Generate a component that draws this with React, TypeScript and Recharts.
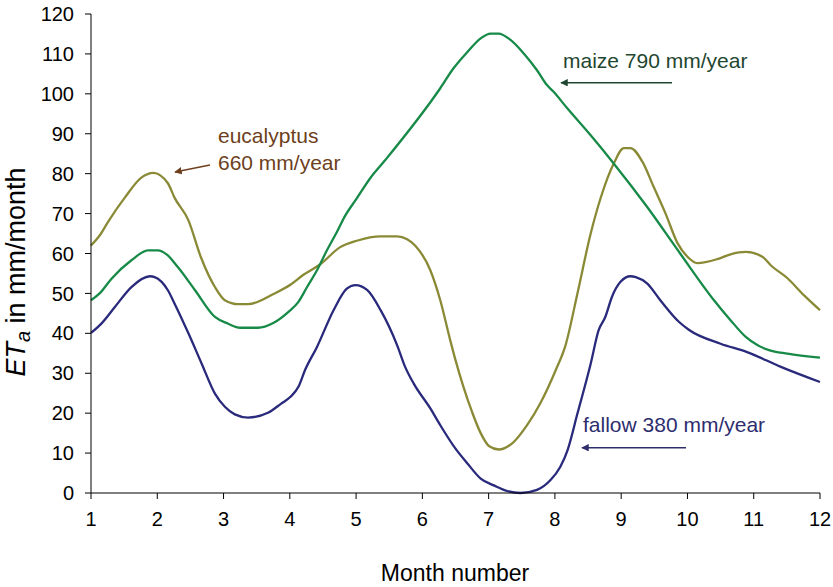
import { LineChart, Line, XAxis, YAxis } from 'recharts';

// months (fractional) and ET_a values in mm/month
const eucalyptusMonths = [1.0, 1.13, 1.26, 1.51, 1.76, 1.94, 2.16, 2.26, 2.47, 2.66, 2.87, 3.02, 3.22, 3.37, 3.77, 4.02, 4.2, 4.46, 4.76, 5.01, 5.37, 5.62, 5.77, 5.89, 6.12, 6.27, 6.42, 6.5, 6.62, 6.75, 6.88, 7.01, 7.15, 7.36, 7.58, 7.78, 8.01, 8.16, 8.34, 8.54, 8.69, 8.89, 9.04, 9.14, 9.32, 9.49, 9.67, 9.85, 10.0, 10.15, 10.45, 10.65, 10.88, 11.13, 11.26, 11.51, 11.76, 12.0];
const eucalyptusEt = [62, 64.5, 68, 74, 79, 80.2, 77.6, 74, 68.3, 59, 51.6, 48.3, 47.3, 47.3, 50, 52.3, 54.6, 57.3, 61.6, 63.2, 64.3, 64.3, 63.6, 62, 55.8, 48.3, 38.3, 33.3, 26.6, 20.3, 15, 11.7, 10.9, 12.5, 17, 22.5, 30.7, 37, 50, 65, 73.9, 82.6, 86.4, 86.4, 83, 76.7, 70, 62.6, 59.2, 57.6, 58.6, 59.8, 60.4, 59.2, 57, 53.8, 49.5, 45.8];

const maizeMonths = [1.0, 1.13, 1.31, 1.61, 1.86, 2.01, 2.14, 2.31, 2.57, 2.87, 3.07, 3.25, 3.52, 3.75, 3.98, 4.13, 4.26, 4.41, 4.56, 4.71, 4.84, 5.01, 5.21, 5.44, 6.27, 6.47, 6.68, 6.88, 7.03, 7.15, 7.33, 7.53, 7.73, 7.88, 7.98, 8.19, 8.54, 8.89, 9.39, 9.89, 10.4, 10.65, 10.88, 11.06, 11.23, 11.51, 12.0];
const maizeEt = [48.3, 50, 53.7, 58.3, 60.8, 60.8, 59.8, 56.6, 50.8, 44.1, 42.4, 41.4, 41.4, 42.6, 45.4, 47.9, 51.6, 55.8, 60.8, 65.4, 69.6, 73.8, 78.8, 83.4, 101.4, 106.4, 110.5, 113.9, 115.1, 115.1, 113.5, 110.1, 105.9, 102.2, 100.5, 96.3, 89.6, 82.5, 71.7, 60, 48.3, 43.3, 39.1, 37, 35.8, 34.9, 33.9];

const fallowMonths = [1.0, 1.16, 1.36, 1.61, 1.89, 1.96, 2.16, 2.26, 2.47, 2.67, 2.87, 3.02, 3.17, 3.37, 3.67, 3.87, 4.01, 4.13, 4.23, 4.41, 4.66, 4.86, 4.99, 5.17, 5.37, 5.62, 5.74, 5.87, 6.12, 6.27, 6.5, 6.68, 6.88, 7.08, 7.28, 7.48, 7.73, 7.93, 8.08, 8.19, 8.34, 8.54, 8.66, 8.76, 8.86, 8.99, 9.14, 9.22, 9.39, 9.59, 9.87, 10.02, 10.5, 10.9, 11.41, 12.0];
const fallowEt = [40.1, 42.5, 46.6, 51.6, 54.3, 54.1, 50.8, 47.5, 40, 32.4, 24.9, 21.6, 19.7, 18.9, 20.1, 22.4, 24.1, 26.6, 30.8, 36.6, 45.8, 51.2, 52.1, 50.8, 45.8, 37, 31.6, 27.4, 21.2, 17, 11.1, 7.4, 3.6, 1.9, 0.5, 0, 0.8, 3.2, 6.5, 10.7, 19.9, 32.4, 40.8, 44.1, 49.1, 52.9, 54.3, 54.1, 52.5, 48.3, 42.9, 40.9, 37.4, 35.3, 31.6, 27.8];

const monthTicks = [1, 2, 3, 4, 5, 6, 7, 8, 9, 10, 11, 12];
const etTicks = [0, 10, 20, 30, 40, 50, 60, 70, 80, 90, 100, 110, 120];

const toRows = (months: number[], values: number[]) =>
  months.map((m, i) => ({ month: m, et: values[i] }));

const FONT = '"Liberation Sans", Arial, Helvetica, sans-serif';
const tickStyle = { fill: '#000', fontSize: 20, fontFamily: FONT };

export default function App() {
  // pinned to the page corner so the body margin does not push it out of view
  return (
    <div style={{ position: 'absolute', left: 0, top: 0, width: 833, height: 587 }}>
      <LineChart
        width={833}
        height={587}
        margin={{ top: 14, right: 13, left: 0, bottom: 54 }}
      >
        <XAxis
          type="number"
          dataKey="month"
          domain={[1, 12]}
          ticks={monthTicks}
          height={40}
          tickSize={6}
          tickMargin={13}
          stroke="#000"
          tick={tickStyle}
        />
        <YAxis
          type="number"
          domain={[0, 120]}
          ticks={etTicks}
          width={91}
          tickSize={6}
          tickMargin={11}
          stroke="#000"
          tick={tickStyle}
        />
        <Line
          data={toRows(eucalyptusMonths, eucalyptusEt)}
          dataKey="et"
          type="monotone"
          stroke="#8a8a36"
          strokeWidth={2.3}
          dot={false}
          isAnimationActive={false}
        />
        <Line
          data={toRows(maizeMonths, maizeEt)}
          dataKey="et"
          type="monotone"
          stroke="#178a48"
          strokeWidth={2.3}
          dot={false}
          isAnimationActive={false}
        />
        <Line
          data={toRows(fallowMonths, fallowEt)}
          dataKey="et"
          type="monotone"
          stroke="#2a2a7c"
          strokeWidth={2.3}
          dot={false}
          isAnimationActive={false}
        />
      </LineChart>

      {/* annotations and axis titles */}
      <svg
        width={833}
        height={587}
        style={{ position: 'absolute', left: 0, top: 0, pointerEvents: 'none' }}
        fontFamily={FONT}
      >
        <defs>
          <marker id="arrBrown" viewBox="0 0 10 10" refX="9" refY="5" markerWidth="5" markerHeight="5" orient="auto">
            <path d="M0,0 L10,5 L0,10 z" fill="#6e3f1c" />
          </marker>
          <marker id="arrGreen" viewBox="0 0 10 10" refX="9" refY="5" markerWidth="5" markerHeight="5" orient="auto">
            <path d="M0,0 L10,5 L0,10 z" fill="#1f4630" />
          </marker>
          <marker id="arrBlue" viewBox="0 0 10 10" refX="9" refY="5" markerWidth="5" markerHeight="5" orient="auto">
            <path d="M0,0 L10,5 L0,10 z" fill="#2e2e6e" />
          </marker>
        </defs>

        <text x={218} y={143} fontSize={21} fill="#6e3f1c">eucalyptus</text>
        <text x={218} y={170} fontSize={21} fill="#6e3f1c">660 mm/year</text>
        <line x1={210} y1={165} x2={175} y2={172} stroke="#6e3f1c" strokeWidth={1.5} markerEnd="url(#arrBrown)" />

        <text x={563} y={68} fontSize={21} fill="#1f4630">maize 790 mm/year</text>
        <line x1={672} y1={82.7} x2={561} y2={82.7} stroke="#1f4630" strokeWidth={1.5} markerEnd="url(#arrGreen)" />

        <text x={583} y={432} fontSize={21} fill="#2e2e6e">fallow 380 mm/year</text>
        <line x1={686} y1={447.7} x2={582} y2={447.7} stroke="#2e2e6e" strokeWidth={1.5} markerEnd="url(#arrBlue)" />

        <text x={455} y={581} fontSize={23} fill="#000" textAnchor="middle">Month number</text>
        <text
          x={25}
          y={272}
          fontSize={27}
          fill="#000"
          textAnchor="middle"
          transform="rotate(-90 25 272)"
        >
          <tspan fontStyle="italic">ET</tspan>
          <tspan fontStyle="italic" fontSize={20} dy={5}>a</tspan>
          <tspan dy={-5}> in mm/month</tspan>
        </text>
      </svg>
    </div>
  );
}
